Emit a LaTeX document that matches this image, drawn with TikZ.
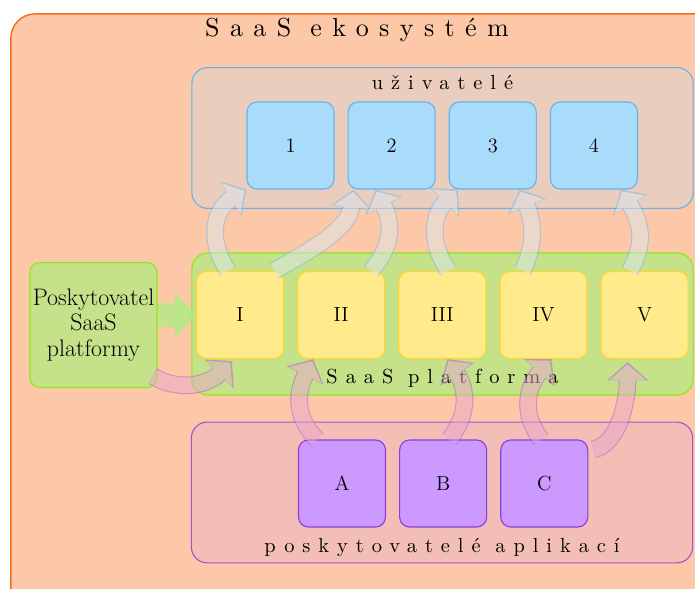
\documentclass[tikz,border=0pt]{standalone}
\usepackage{fontspec}
\usepackage{tikz}
\usetikzlibrary{arrows.meta, positioning, calc}

\newfontfamily\spacedfont[LetterSpace=39]{lmroman10-regular.otf}
\newfontfamily\titlefont[LetterSpace=40]{lmroman10-regular.otf}

\definecolor{ecofill}{HTML}{FDC8A7}
\definecolor{ecoline}{HTML}{F26E18}
\definecolor{userbg}{HTML}{EACDBC}
\definecolor{userline}{HTML}{64B2EE}
\definecolor{userfill}{HTML}{A9DBFA}
\definecolor{platbg}{HTML}{C5E18A}
\definecolor{platline}{HTML}{8CEB14}
\definecolor{svcfill}{HTML}{FFEB8C}
\definecolor{svcline}{HTML}{FFD72A}
\definecolor{appbg}{HTML}{F3BEB5}
\definecolor{appline}{HTML}{A352D6}
\definecolor{appfill}{HTML}{CC99FF}
\definecolor{appboxline}{HTML}{8B3EDC}
\definecolor{upfill}{HTML}{DCE6F0}
\definecolor{upline}{HTML}{6FB8EE}
\definecolor{inpfill}{HTML}{EAA6CC}
\definecolor{inpline}{HTML}{A35ED8}
\definecolor{feedfill}{HTML}{B2EA86}

\begin{document}
\begin{tikzpicture}[
    x=0.025cm, y=-0.025cm,
    node distance=0.325cm,
    box/.style={rectangle, draw, line width=0.8pt, rounded corners=0.25cm, minimum width=2.175cm, minimum height=2.175cm, align=center, font=\fontsize{14.5}{17}\selectfont},
    user/.style={box, fill=userfill, draw=userline},
    svc/.style={box, fill=svcfill, draw=svcline},
    app/.style={box, fill=appfill, draw=appboxline},
    group/.style={rectangle, draw, line width=0.8pt, rounded corners=0.4cm, minimum width=12.53cm, minimum height=3.52cm},
    spaced/.style={font=\spacedfont\fontsize{14.5}{17}\selectfont},
    flow/.style={line width=11pt, shorten >=1.6pt, -{Triangle[length=11pt,width=25pt]}},
    flowup/.style={flow, draw=upfill, preaction={draw=upline, line width=12.6pt, shorten >=0pt, -{Triangle[length=13pt,width=28.5pt]}}},
    flowin/.style={flow, draw=inpfill, preaction={draw=inpline, line width=12.6pt, shorten >=0pt, -{Triangle[length=13pt,width=28.5pt]}}},
    feed/.style={line width=17pt, draw=feedfill, opacity=0.8, -{Triangle[length=15pt,width=33pt]}}
]
\useasboundingbox (0,0) rectangle (695,588);
\clip (0,0) rectangle (695,588);

% ecosystem
\node[rectangle, draw=ecoline, fill=ecofill, line width=1pt, rounded corners=0.6cm, minimum width=17.725cm, minimum height=15.15cm] (eco) at (365.5,317) {};
\node[font=\titlefont\fontsize{18.5}{21}\selectfont] (title) at (357,30) {SaaS ekosystém};

% groups
\node[group, fill=userbg, draw=userline] (users) at (442.5,138) {};
\node[group, fill=platbg, draw=platline, minimum height=3.55cm] (platform) at (442.5,324) {};
\node[group, fill=appbg, draw=appline] (apps) at (442,492.5) {};

\node[spaced] (userslbl) at ($(users.north)+(0,15)$) {uživatelé};
\node[spaced] (platlbl) at ($(platform.south)+(0,-17)$) {SaaS platforma};
\node[spaced] (appslbl) at ($(apps.south)+(0,-16)$) {poskytovatelé aplikací};

% users
\node[user] (u1) at (290.5,145.5) {1};
\node[user, right=of u1] (u2) {2};
\node[user, right=of u2] (u3) {3};
\node[user, right=of u3] (u4) {4};

% platform services
\node[svc] (p1) at (240,315) {I};
\node[svc, right=of p1] (p2) {II};
\node[svc, right=of p2] (p3) {III};
\node[svc, right=of p3] (p4) {IV};
\node[svc, right=of p4] (p5) {V};

% applications
\node[app] (a) at (342,483.5) {A};
\node[app, right=of a] (b) {B};
\node[app, right=of b] (c) {C};

% provider
\node[box, fill=platbg, draw=platline, inner sep=0pt, minimum width=3.175cm, minimum height=3.125cm, font=\fontsize{17}{18}\selectfont] (prov) at (93.5,325) {Poskytovatel\\SaaS\\platformy};

\draw[feed] (prov.east |- p1.west) -- (p1.west);

% platform -> users
\begin{scope}[transparency group, opacity=0.5]
\draw[flowup] ($(p1.north)+(-12,0)$) .. controls +(-23,-35) and +(-30,18) .. (u1.south west);
\draw[flowup] ($(p1.north east)+(-10,0)$) .. controls +(35,-20) and +(-5,40) .. ($(u2.south)+(-38,0)$);
\draw[flowup] ($(p2.north)+(30,0)$) .. controls +(25,-30) and +(15,30) .. ($(u2.south)+(-16,0)$);
\draw[flowup] ($(p3.north)+(6,0)$) .. controls +(-20,-30) and +(-25,25) .. ($(u3.south)+(-35,0)$);
\draw[flowup] ($(p4.north)+(-21,0)$) .. controls +(15,-30) and +(12,28) .. ($(u3.south)+(27,0)$);
\draw[flowup] ($(p5.north)+(-15,0)$) .. controls +(18,-30) and +(18,30) .. ($(u4.south)+(27,0)$);
\end{scope}

% applications -> platform
\begin{scope}[transparency group, opacity=0.5]
\draw[flowin] ($(a.north)+(-25,0)$) .. controls +(-25,-25) and +(-15,30) .. ($(p2.south)+(-28,0)$);
\draw[flowin] ($(b.north)+(6,0)$) .. controls +(20,-25) and +(20,30) .. ($(p3.south)+(5,0)$);
\draw[flowin] ($(c.north)+(-3,0)$) .. controls +(-20,-25) and +(-25,28) .. ($(p4.south)+(8,0)$);
\draw[flowin] ($(c.north east)+(5,10)$) .. controls +(25,-5) and +(0,40) .. ($(p5.south)+(-17,3)$);
% provider -> platform
\draw[flowin] ($(prov.south east)+(-5,-12)$) .. controls +(25,15) and +(-25,25) .. ($(p1.south)+(-8,2)$);
\end{scope}

\end{tikzpicture}
\end{document}
